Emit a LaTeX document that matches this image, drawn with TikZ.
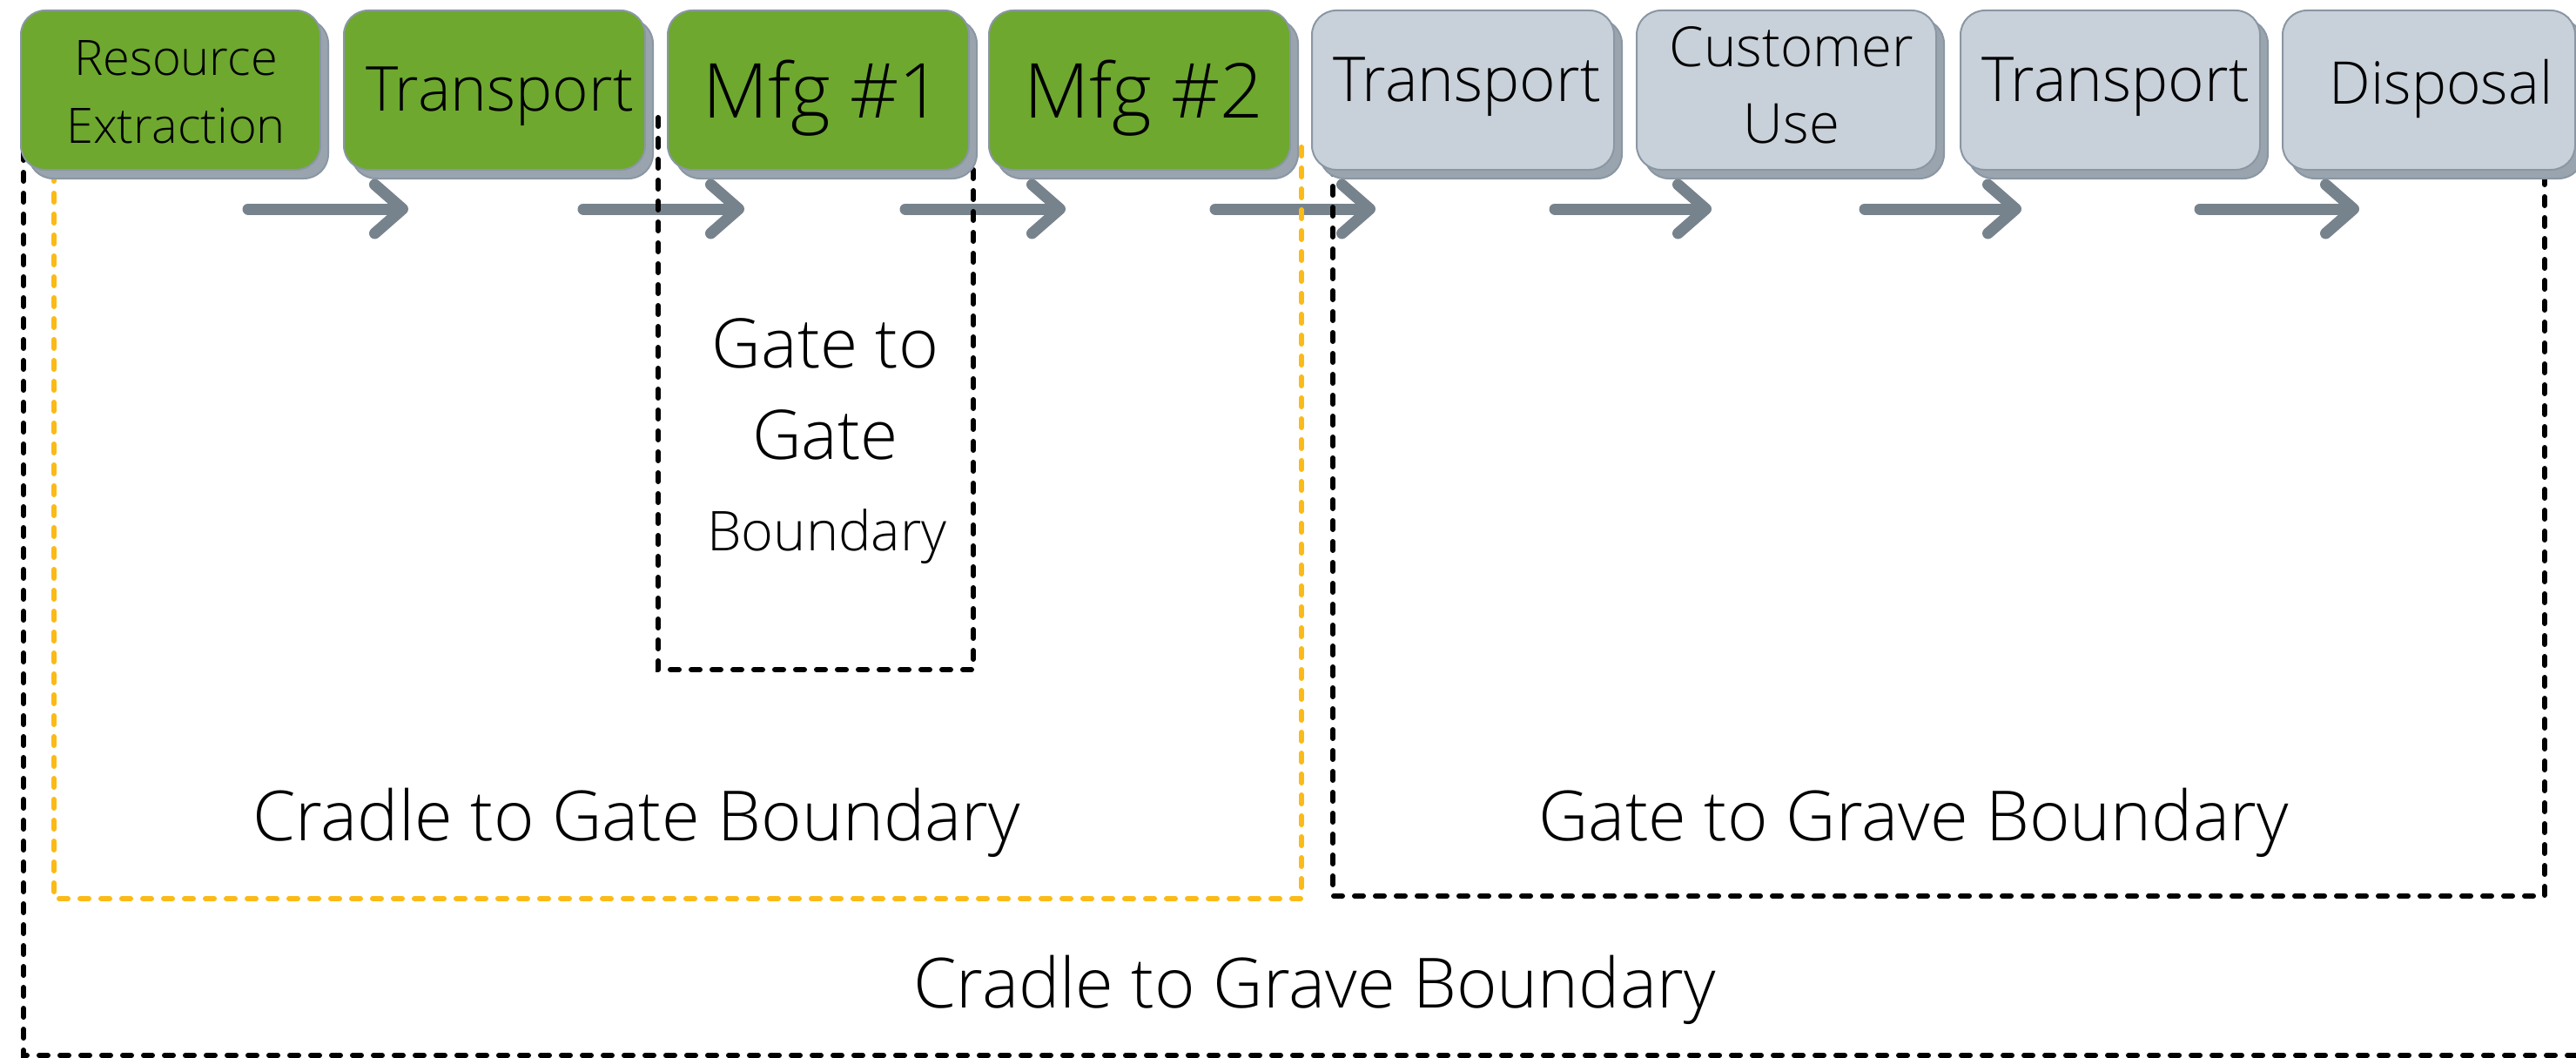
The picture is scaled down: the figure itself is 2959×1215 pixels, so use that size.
\documentclass[tikz,border=0pt]{standalone}
\usepackage{fontspec}
\IfFontExistsTF{Open Sans Light}{\setmainfont{Open Sans Light}}{\setmainfont{Open Sans}}
\usetikzlibrary{arrows.meta,shadows}
\definecolor{boxgreen}{HTML}{6EA82F}
\definecolor{boxgrey}{HTML}{C8D0D9}
\definecolor{boxedge}{HTML}{8A97A3}
\definecolor{shadowfill}{HTML}{9AA4AF}
\definecolor{arrowgrey}{HTML}{77838C}
\definecolor{gold}{HTML}{FBBA17}
\tikzset{
  stage/.style={rounded corners=28pt, minimum height=183pt, draw=boxedge, line width=2pt, inner sep=0pt,
    general shadow={shadow xshift=9pt, shadow yshift=-10pt, fill=shadowfill, draw=boxedge, line width=2pt}},
  greenstage/.style={stage, fill=boxgreen},
  greystage/.style={stage, fill=boxgrey},
  flow/.style={draw=arrowgrey, line width=13pt, line cap=round, line join=round,
    -{Straight Barb[length=32pt, width=56pt, round]}},
  bound/.style={draw=black, line width=6pt, line cap=round, dash pattern=on 10pt off 14pt},
  goldbound/.style={bound, draw=gold},
  lbl/.style={anchor=base, inner sep=0pt, text=black},
}
\begin{document}
\begin{tikzpicture}[x=1pt, y=-1pt]
\useasboundingbox (0,0) rectangle (2959,1215);
\clip (0,0) rectangle (2959,1215);

% flow arrows
\coordinate (a1s) at (285,240); \coordinate (a1e) at (469,240);
\coordinate (a2s) at (670,240); \coordinate (a2e) at (855,240);
\coordinate (a3s) at (1040,240); \coordinate (a3e) at (1224,240);
\coordinate (a4s) at (1396,240); \coordinate (a4e) at (1580,240);
\coordinate (a5s) at (1786,240); \coordinate (a5e) at (1966,240);
\coordinate (a6s) at (2142,240); \coordinate (a6e) at (2322,240);
\coordinate (a7s) at (2527,240); \coordinate (a7e) at (2710,240);
\draw[flow] (a1s) -- (a1e);
\draw[flow] (a2s) -- (a2e);
\draw[flow] (a3s) -- (a3e);
\draw[flow] (a4s) -- (a4e);
\draw[flow] (a5s) -- (a5e);
\draw[flow] (a6s) -- (a6e);
\draw[flow] (a7s) -- (a7e);

% boundaries
\coordinate (cg1) at (27,150); \coordinate (cg2) at (27,1212); \coordinate (cg3) at (2980,1212);
\draw[bound] (cg1) -- (cg2) -- (cg3);
\coordinate (cy1) at (62,150); \coordinate (cy2) at (62,1032); \coordinate (cy3) at (1495,1032); \coordinate (cy4) at (1495,157);
\draw[goldbound] (cy1) -- (cy2) -- (cy3) -- (cy4);
\coordinate (gg1) at (756,135); \coordinate (gg2) at (756,769); \coordinate (gg3) at (1118,769); \coordinate (gg4) at (1118,187);
\draw[bound] (gg1) -- (gg2) -- (gg3) -- (gg4);
\coordinate (gr1) at (1531,190); \coordinate (gr2) at (1531,1029); \coordinate (gr3) at (2923,1029); \coordinate (gr4) at (2923,190);
\draw[bound] (gr1) -- (gr2) -- (gr3) -- (gr4);

% stages
\node[greenstage, minimum width=344pt] (s1) at (196,103.5) {};
\node[greenstage, minimum width=346pt] (s2) at (568,103.5) {};
\node[greenstage, minimum width=346pt] (s3) at (940,103.5) {};
\node[greenstage, minimum width=346pt] (s4) at (1309,103.5) {};
\node[greystage, minimum width=347pt] (s5) at (1680.5,103.5) {};
\node[greystage, minimum width=344pt] (s6) at (2052,103.5) {};
\node[greystage, minimum width=344pt] (s7) at (2424,103.5) {};
\node[greystage, minimum width=336pt] (s8) at (2790,103.5) {};

% stage texts
\node[lbl, font=\fontsize{56}{60}\selectfont] (t1a) at (202,87) {Resource};
\node[lbl, font=\fontsize{56}{60}\selectfont] (t1b) at (202,164) {Extraction};
\node[lbl, font=\fontsize{71}{76}\selectfont] (t2) at (574,128) {Transport};
\node[lbl, font=\fontsize{87}{90}\selectfont] (t3) at (945,135) {Mfg \#1};
\node[lbl, font=\fontsize{87}{90}\selectfont] (t4) at (1314,135) {Mfg \#2};
\node[lbl, font=\fontsize{71}{76}\selectfont] (t5) at (1685,117) {Transport};
\node[lbl, font=\fontsize{63.5}{68}\selectfont] (t6a) at (2058,77) {Customer};
\node[lbl, font=\fontsize{63.5}{68}\selectfont] (t6b) at (2058,164) {Use};
\node[lbl, font=\fontsize{71}{76}\selectfont] (t7) at (2430,117) {Transport};
\node[lbl, font=\fontsize{67.5}{70}\selectfont] (t8) at (2804,119) {Disposal};

% boundary labels
\node[lbl, font=\fontsize{78.5}{80}\selectfont] (g1) at (948,422) {Gate to};
\node[lbl, font=\fontsize{78.5}{80}\selectfont] (g2) at (948,527) {Gate};
\node[lbl, font=\fontsize{63}{66}\selectfont] (g3) at (950,632) {Boundary};
\node[lbl, font=\fontsize{79.5}{84}\selectfont] (c1) at (731,965) {Cradle to Gate Boundary};
\node[lbl, font=\fontsize{79.5}{84}\selectfont] (c2) at (2198,965) {Gate to Grave Boundary};
\node[lbl, font=\fontsize{79.5}{84}\selectfont] (c3) at (1510,1157) {Cradle to Grave Boundary};
\end{tikzpicture}
\end{document}
